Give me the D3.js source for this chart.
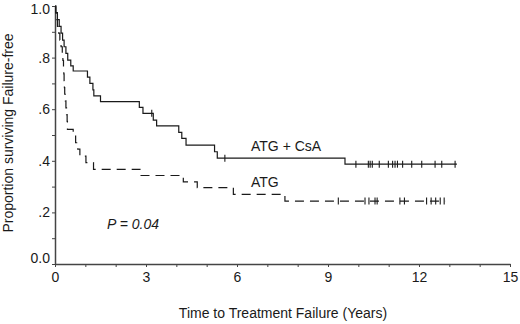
<!DOCTYPE html>
<html><head><meta charset="utf-8">
<script src="https://cdn.jsdelivr.net/npm/d3@7"></script>
<style>
html,body{margin:0;padding:0;background:#fff;}
svg{display:block;font-family:"Liberation Sans",Arial,sans-serif;}
</style></head>
<body><svg id="chart" width="520" height="324"></svg>
<script>
// ---- Data ----
const combinedTimes = [0,0.03,0.08,0.14,0.2,0.25,0.3,0.36,0.42,0.52,0.6,1.07,1.15,1.25,1.28,1.5,2.78,2.9,3.24,3.35,4.08,4.18,4.32,5.26,5.35,9.56];
const combinedSurv  = [1.0,0.974,0.947,0.921,0.895,0.868,0.842,0.816,0.79,0.768,0.748,0.724,0.70,0.675,0.652,0.629,0.607,0.584,0.558,0.535,0.51,0.487,0.461,0.435,0.41,0.387];
const combinedCensor = [3.19,5.6,9.92,10.33,10.39,10.46,10.69,10.99,11.13,11.21,11.29,11.46,11.76,12.09,12.53,12.75,13.19];
const combinedEnd = 13.25;

const atgTimes = [0,0.02,0.04,0.08,0.12,0.16,0.2,0.24,0.26,0.28,0.29,0.3,0.31,0.32,0.34,0.36,0.38,0.4,0.41,0.6,0.68,0.75,0.82,1.02,1.27,2.8,4.23,4.69,5.88,7.58];
const atgSurv  = [1.0,0.974,0.947,0.921,0.895,0.868,0.842,0.816,0.789,0.763,0.737,0.711,0.684,0.658,0.632,0.605,0.579,0.553,0.522,0.496,0.47,0.445,0.418,0.393,0.367,0.343,0.318,0.296,0.27,0.244];
const atgCensor = [9.34,10.22,10.35,10.55,10.62,11.37,11.52,12.25,12.4,12.55,12.7,12.83];
const atgEnd = 12.86;

const xTickLabels = [0,3,6,9,12,15];
const xMinorTicks = d3.range(0,16,1);
const yTickLabels = [0,0.2,0.4,0.6,0.8,1.0];
const yMinorTicks = [0.1,0.3,0.5,0.7,0.9];

const seriesLabels = ["ATG + CsA","ATG"];
const pText = "P = 0.04";
const xTitle = "Time to Treatment Failure (Years)";
const yTitle = "Proportion surviving Failure-free";

// ---- Drawing ----
const svg = d3.select("#chart");
const x = d3.scaleLinear().domain([0,15]).range([55,510]);
const y = d3.scaleLinear().domain([0,1]).range([264,6]);
const ink = "#1a1a1a";
const axisCol = "#444";

function fmtY(v){ if(v===0) return "0.0"; if(v===1) return "1.0"; return "." + Math.round(v*10); }

// y axis
const gy = svg.append("g").attr("transform","translate(55,0)")
  .call(d3.axisLeft(y).tickValues(yTickLabels).tickFormat(fmtY).tickSize(3).tickPadding(2).tickSizeOuter(0));
// end labels nudged like the reference (0.0 sits above the x axis, 1.0 inside the frame)
gy.selectAll(".tick text").attr("dy", d => d===0 ? "-0.12em" : d===1 ? "0.5em" : "0.32em");
svg.append("g").attr("transform","translate(55,0)")
  .call(d3.axisLeft(y).tickValues(yMinorTicks).tickFormat("").tickSize(3).tickSizeOuter(0))
  .select(".domain").remove();
// x axis
const gx = svg.append("g").attr("transform","translate(0,264)")
  .call(d3.axisBottom(x).tickValues(xTickLabels).tickFormat(d3.format("d")).tickSize(3).tickPadding(5).tickSizeOuter(0));
svg.append("g").attr("transform","translate(0,264)")
  .call(d3.axisBottom(x).tickValues(xMinorTicks.filter(v=>v%3!==0)).tickFormat("").tickSize(3).tickSizeOuter(0))
  .select(".domain").remove();

svg.selectAll(".domain").attr("stroke",axisCol).attr("stroke-width",1.5);
svg.selectAll(".tick line").attr("stroke",axisCol).attr("stroke-width",1);
svg.selectAll(".tick text").attr("font-size",14).attr("fill",ink).attr("font-family","Liberation Sans, Arial, sans-serif");

// KM curves
function stepPoints(times, surv, end){
  const pts = times.map((t,i)=>[t,surv[i]]);
  pts.push([end, surv[surv.length-1]]);
  return pts;
}
function survAt(times, surv, t){
  let s = surv[0];
  for(let i=0;i<times.length;i++){ if(times[i]<=t) s = surv[i]; }
  return s;
}
const line = d3.line().x(d=>x(d[0])).y(d=>y(d[1])).curve(d3.curveStepAfter);

svg.append("path").datum(stepPoints(combinedTimes,combinedSurv,combinedEnd))
  .attr("d",line).attr("fill","none").attr("stroke",ink).attr("stroke-width",1.2);
svg.append("path").datum(stepPoints(atgTimes,atgSurv,atgEnd))
  .attr("d",line).attr("fill","none").attr("stroke",ink).attr("stroke-width",1.2)
  .attr("stroke-dasharray","9,6");

// censor marks
function censorMarks(times, surv, cens){
  svg.append("g").selectAll("line").data(cens).join("line")
    .attr("x1",d=>x(d)).attr("x2",d=>x(d))
    .attr("y1",d=>y(survAt(times,surv,d))-3.5)
    .attr("y2",d=>y(survAt(times,surv,d))+3.5)
    .attr("stroke",ink).attr("stroke-width",1.1);
}
censorMarks(combinedTimes,combinedSurv,combinedCensor);
censorMarks(atgTimes,atgSurv,atgCensor);

// labels
const txt = (s)=>svg.append("text").text(s).attr("font-size",14).attr("fill",ink);
txt(seriesLabels[0]).attr("x",251).attr("y",150.5);
txt(seriesLabels[1]).attr("x",251).attr("y",186.5);
txt(pText).attr("x",107).attr("y",229).attr("font-style","italic");
txt(xTitle).attr("x",283).attr("y",318).attr("text-anchor","middle");
txt(yTitle).attr("text-anchor","middle")
  .attr("transform","translate(13,133) rotate(-90)");
</script></body></html>
